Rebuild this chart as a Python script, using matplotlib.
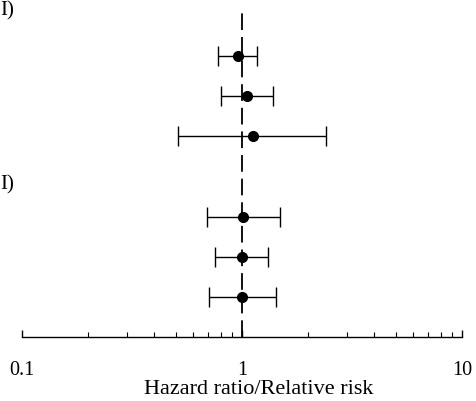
import numpy as np
import matplotlib
matplotlib.use("Agg")
import matplotlib.pyplot as plt
from matplotlib.ticker import LogLocator, NullFormatter, FixedLocator, FixedFormatter

plt.rcParams['font.family'] = ['Liberation Serif', 'DejaVu Serif']
plt.rcParams['lines.scale_dashes'] = False

# estimates (top to bottom)
rows = [0, 1, 2, 4, 5, 6]
estimates = [0.96, 1.05, 1.12, 1.01, 1.00, 1.00]
lower_ci = [0.78, 0.80, 0.51, 0.69, 0.75, 0.71]
upper_ci = [1.17, 1.38, 2.40, 1.49, 1.31, 1.42]
group_labels = ["I)", "I)"]
tick_values = [0.1, 1, 10]
tick_labels = ["0.1", "1", "10"]

est = np.array(estimates)
xerr = [est - np.array(lower_ci), np.array(upper_ci) - est]

fig = plt.figure(figsize=(4.77, 4.01), dpi=100)
ax = fig.add_axes([22 / 477, (401 - 337) / 401, 440 / 477, 337 / 401])

ax.errorbar(estimates, rows, xerr=xerr, fmt='o', color='black', ms=7,
            elinewidth=1.0, capsize=7, capthick=1.0, clip_on=False, zorder=3)
ax.plot([1, 1], [7, -1.07], color='black', lw=1.3, dashes=(12, 5), zorder=2)

ax.set_xscale('log')
ax.set_xlim(0.1, 10)
ax.set_ylim(7, -1.4)

for s in ['top', 'right', 'left']:
    ax.spines[s].set_visible(False)
ax.spines['bottom'].set_linewidth(1.0)
ax.set_yticks([])

ax.xaxis.set_major_locator(FixedLocator(tick_values))
ax.xaxis.set_major_formatter(FixedFormatter(tick_labels))
ax.xaxis.set_minor_locator(LogLocator(base=10, subs=np.arange(2, 10)))
ax.xaxis.set_minor_formatter(NullFormatter())
ax.tick_params(axis='x', which='major', direction='in', length=5, width=1.0,
               labelsize=14.5, pad=17)
ax.tick_params(axis='x', which='minor', direction='in', length=3.5, width=0.8)

fig.text(259 / 477, 1 - 389 / 401, "Hazard ratio/Relative risk", fontsize=16,
         ha='center', va='center')

# group labels sit at the left edge
fig.text(14 / 477, 1 - 11 / 401, group_labels[0], fontsize=15, ha='right', va='center')
fig.text(14 / 477, 1 - 185 / 401, group_labels[1], fontsize=15, ha='right', va='center')

fig.savefig("out.png", dpi=100)
